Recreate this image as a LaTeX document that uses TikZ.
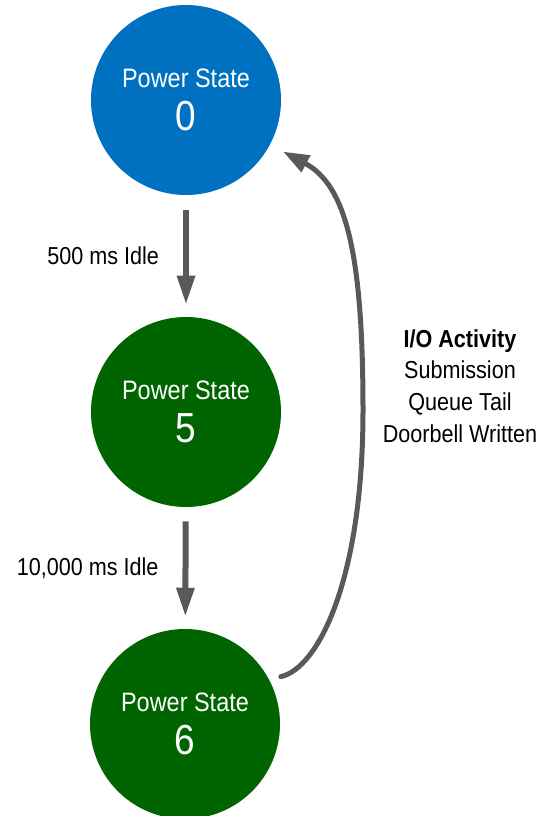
\documentclass[tikz,border=0pt]{standalone}
\usepackage{fontspec}
\newfontfamily\slidefont{Liberation Sans}[FakeStretch=0.88]
\definecolor{PSblue}{HTML}{0070C0}
\definecolor{PSgreen}{HTML}{006400}
\definecolor{PSgray}{HTML}{595959}
\usetikzlibrary{arrows.meta, positioning, calc}

\begin{document}
\begin{tikzpicture}[x=0.75pt, y=-0.75pt,
    state/.style={circle, minimum size=142.5pt, inner sep=0pt, text=white, align=center,
       font=\slidefont\fontsize{20}{32.25}\selectfont},
    idle/.style={-{Triangle[length=21.75pt, width=12.75pt]}, PSgray, line width=4.5pt},
    lbl/.style={font=\slidefont\fontsize{18.4}{23.8}\selectfont, text=black, inner sep=0pt, align=center}]
    \useasboundingbox (0,0) rectangle (555,816);
    % Power states
    \node[state, fill=PSblue] (ps0) at (186,100) {Power State\\{\fontsize{31.5}{32.25}\selectfont 0}};
    \node[state, fill=PSgreen] (ps5) at (186,412) {Power State\\{\fontsize{31.5}{32.25}\selectfont 5}};
    \node[state, fill=PSgreen] (ps6) at (185,724) {Power State\\{\fontsize{31.5}{32.25}\selectfont 6}};
    % Idle transitions
    \draw[idle, shorten <=11.25pt, shorten >=9pt] (ps0) -- (ps5)
       node[midway, lbl, left=18pt] {500 ms Idle};
    \draw[idle, shorten <=10.5pt, shorten >=9pt] (ps5) -- (ps6)
       node[midway, lbl, left=18pt] {10,000 ms Idle};
    % Wake-up on I/O activity
    \coordinate (bend) at (363,410);
    \draw[PSgray, line width=3.75pt, line cap=round, -{Triangle[length=19.5pt, width=13.5pt]},
          shorten <=9pt, shorten >=11pt]
       (ps6.28) .. controls +(49,-11) and +(0,170) .. (bend)
       .. controls +(0,-160) and +(75,40) .. (ps0.-28);
    \node[lbl] (ioact) at (460,386) {\textbf{I/O Activity}\\Submission\\Queue Tail\\Doorbell Written};
\end{tikzpicture}
\end{document}
